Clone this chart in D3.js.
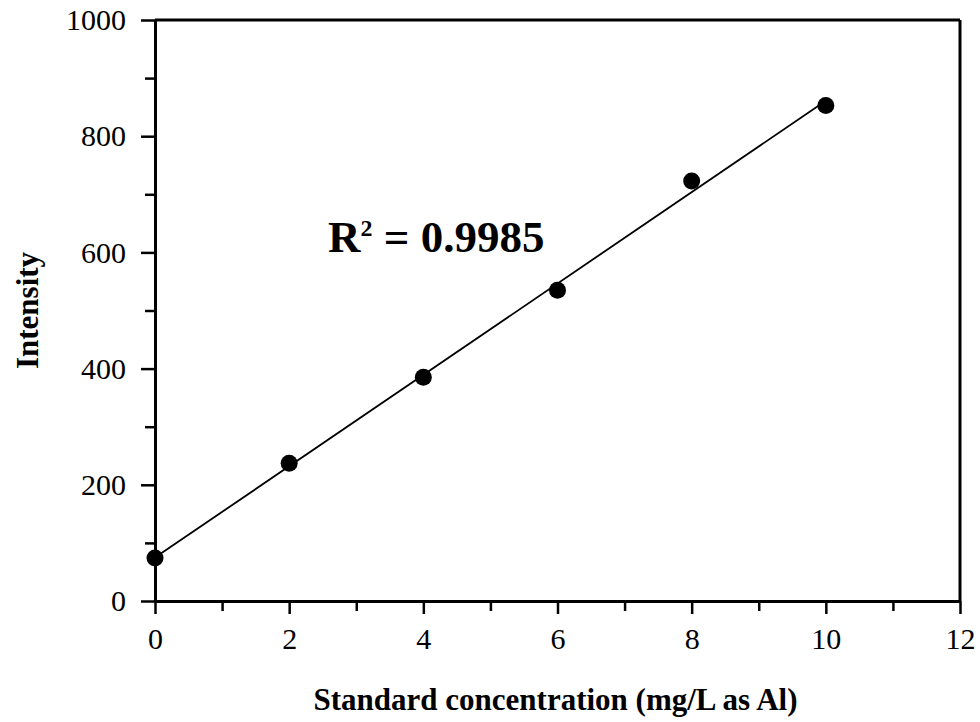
<!DOCTYPE html>
<html>
<head>
<meta charset="utf-8">
<script src="https://cdn.jsdelivr.net/npm/d3@7"></script>
<style>
  body { margin: 0; background: #fff; }
  svg { display: block; font-family: "Liberation Serif", "Times New Roman", serif; }
</style>
</head>
<body>
<svg></svg>
<script>
// calibration data
const concentration = [0, 2, 4, 6, 8, 10];
const intensity = [74, 237, 385, 535, 723, 853];
const xTicks = [0, 2, 4, 6, 8, 10, 12];
const yTicks = [0, 200, 400, 600, 800, 1000];
const r2Label = "0.9985";

const svgWidth = 980;
const svgHeight = 722;
const serif = "Liberation Serif, Times New Roman, serif";

const svg = d3.select("svg")
    .attr("width", svgWidth)
    .attr("height", svgHeight);

const margin = {top: 20, right: 20, bottom: 121, left: 155};
const width = svgWidth - margin.left - margin.right;
const height = svgHeight - margin.top - margin.bottom;
const g = svg.append("g").attr("transform", "translate(" + margin.left + "," + margin.top + ")");

const x = d3.scaleLinear().domain([0, 12]).range([0, width]);
const y = d3.scaleLinear().domain([0, 1000]).range([height, 0]);

// minor ticks first so the major ones sit on top
g.append("g")
    .attr("transform", "translate(0," + height + ")")
    .call(d3.axisBottom(x).tickValues(d3.range(1, 12, 2)).tickSize(10).tickFormat(""))
    .call(a => a.select(".domain").remove())
    .selectAll("line").attr("stroke-width", 2.5);

g.append("g")
    .call(d3.axisLeft(y).tickValues(d3.range(100, 1000, 200)).tickSize(10).tickFormat(""))
    .call(a => a.select(".domain").remove())
    .selectAll("line").attr("stroke-width", 2.5);

// major ticks
const xAxis = g.append("g")
    .attr("transform", "translate(0," + height + ")")
    .call(d3.axisBottom(x).tickValues(xTicks).tickSize(13).tickPadding(14).tickSizeOuter(0).tickFormat(d3.format("d")));
xAxis.attr("font-family", serif);
xAxis.select(".domain").attr("stroke-width", 3);
xAxis.selectAll("line").attr("stroke-width", 2.5);
xAxis.selectAll("text").attr("font-size", 30).attr("fill", "#000");

const yAxis = g.append("g")
    .call(d3.axisLeft(y).tickValues(yTicks).tickSize(14).tickPadding(15).tickSizeOuter(0).tickFormat(d3.format("d")));
yAxis.attr("font-family", serif);
yAxis.select(".domain").attr("stroke-width", 3);
yAxis.selectAll("line").attr("stroke-width", 2.5);
yAxis.selectAll("text").attr("font-size", 30).attr("fill", "#000");

// frame: top and right borders
g.append("line")
    .attr("x1", 0).attr("x2", width)
    .attr("y1", 0).attr("y2", 0)
    .attr("stroke", "#000").attr("stroke-width", 3);
g.append("line")
    .attr("x1", width).attr("x2", width)
    .attr("y1", 0).attr("y2", height)
    .attr("stroke", "#000").attr("stroke-width", 3);

// least squares trend line
const mx = d3.mean(concentration);
const my = d3.mean(intensity);
const slope = d3.sum(concentration, (c, i) => (c - mx) * (intensity[i] - my)) /
    d3.sum(concentration, c => (c - mx) * (c - mx));
const intercept = my - slope * mx;
const xExt = d3.extent(concentration);

g.append("path")
    .datum(xExt)
    .attr("fill", "none")
    .attr("stroke", "#000")
    .attr("stroke-width", 1.8)
    .attr("d", d3.line().x(d => x(d)).y(d => y(intercept + slope * d)));

// points
g.selectAll("circle")
    .data(concentration)
    .join("circle")
    .attr("cx", d => x(d))
    .attr("cy", (d, i) => y(intensity[i]))
    .attr("r", 8.5)
    .attr("fill", "#000");

// R squared label
const r2 = g.append("text")
    .attr("x", 173)
    .attr("y", 232)
    .attr("font-size", 45)
    .attr("font-weight", "bold");
r2.append("tspan").text("R");
r2.append("tspan").attr("font-size", 24).attr("dy", -16).text("2");
r2.append("tspan").attr("dy", 16).text(" = " + r2Label);

// axis titles
svg.append("text")
    .attr("x", margin.left + width / 2 - 2)
    .attr("y", 710)
    .attr("text-anchor", "middle")
    .attr("font-size", 31)
    .attr("font-weight", "bold")
    .text("Standard concentration (mg/L as Al)");

svg.append("text")
    .attr("transform", "translate(38," + (margin.top + height / 2) + ") rotate(-90)")
    .attr("text-anchor", "middle")
    .attr("font-size", 31)
    .attr("font-weight", "bold")
    .text("Intensity");
</script>
</body>
</html>
